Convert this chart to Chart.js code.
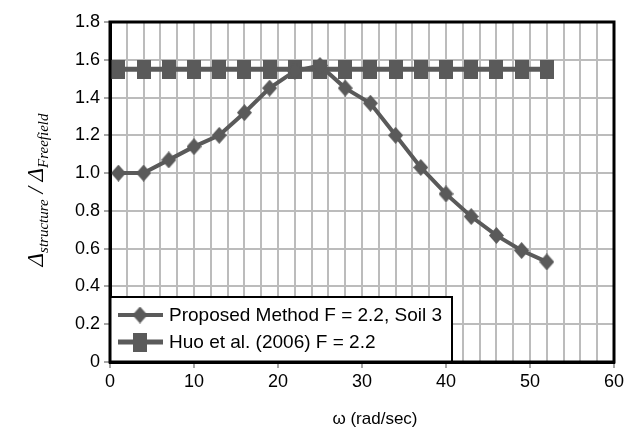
<!DOCTYPE html>
<html>
<head>
<meta charset="utf-8">
<script src="https://cdn.jsdelivr.net/npm/chart.js@4.4.1/dist/chart.umd.min.js"></script>
<style>
  body { margin: 0; background: #fff; }
</style>
</head>
<body>
<canvas id="myChart" width="632" height="431"></canvas>
<script>
// omega (rad/sec) at each sample
const omega = [1, 4, 7, 10, 13, 16, 19, 22, 25, 28, 31, 34, 37, 40, 43, 46, 49, 52]
const proposed = [1.0, 1.0, 1.07, 1.14, 1.2, 1.32, 1.45, 1.54, 1.57, 1.45, 1.37, 1.2, 1.03, 0.89, 0.77, 0.67, 0.59, 0.53]
const huo = [1.55, 1.55, 1.55, 1.55, 1.55, 1.55, 1.55, 1.55, 1.55, 1.55, 1.55, 1.55, 1.55, 1.55, 1.55, 1.55, 1.55, 1.55]
const seriesNames = ['Proposed Method F = 2.2, Soil 3', 'Huo et al. (2006) F = 2.2']
const markColor = '#5a5a5a'

// marker images (picture markers are a bit taller than wide)
function makeMarker(kind){
    const c = document.createElement('canvas')
    const w = kind === 'diamond' ? 15 : 14
    const h = kind === 'diamond' ? 17 : 19
    c.width = w; c.height = h
    const g = c.getContext('2d')
    g.fillStyle = markColor
    if(kind === 'diamond'){
        g.beginPath()
        g.moveTo(w/2, 0); g.lineTo(w, h/2); g.lineTo(w/2, h); g.lineTo(0, h/2)
        g.closePath(); g.fill()
    }else{
        g.fillRect(0, 0, w, h)
    }
    return c
}
const diamond = makeMarker('diamond')
const square = makeMarker('square')

// frame, legend box and axis titles
const extras = {
    id: 'extras',
    afterDatasetsDraw(chart){
        const {ctx, chartArea: a} = chart
        ctx.save()
        // legend box
        const lx = a.left, ly = 297, lw = 342, lh = a.bottom - 297
        ctx.fillStyle = '#fff'
        ctx.fillRect(lx, ly, lw, lh)
        ctx.strokeStyle = '#000'
        ctx.lineWidth = 2
        ctx.strokeRect(lx, ly, lw, lh)
        const rows = [[315, diamond, 4], [342, square, 5]]
        rows.forEach((r, i) => {
            ctx.strokeStyle = markColor
            ctx.lineWidth = r[2]
            ctx.beginPath(); ctx.moveTo(118, r[0]); ctx.lineTo(163, r[0]); ctx.stroke()
            ctx.drawImage(r[1], 140 - r[1].width/2, r[0] - r[1].height/2)
            ctx.fillStyle = '#000'
            ctx.font = '19px "Liberation Sans", Arial, sans-serif'
            ctx.textBaseline = 'middle'
            ctx.textAlign = 'left'
            ctx.fillText(seriesNames[i], 169, r[0] + 1)
        })
        // plot frame
        ctx.strokeStyle = '#000'
        ctx.lineWidth = 3
        ctx.strokeRect(a.left, a.top, a.right - a.left, a.bottom - a.top)
        ctx.restore()
    },
    afterDraw(chart){
        const {ctx} = chart
        ctx.save()
        // x title
        ctx.fillStyle = '#000'
        ctx.textBaseline = 'middle'
        ctx.textAlign = 'center'
        ctx.font = '17px "Liberation Sans", Arial, sans-serif'
        ctx.fillText('\u03C9 (rad/sec)', 375, 419)
        // y title with subscripts
        const big = 'italic 23px "Liberation Serif", "Times New Roman", serif'
        const small = 'italic 15px "Liberation Serif", "Times New Roman", serif'
        const parts = [['\u0394', big, 0], ['structure', small, 5], [' / ', big, 0], ['\u0394', big, 0], ['Freefield', small, 5]]
        let total = 0
        parts.forEach(p => { ctx.font = p[1]; p.push(ctx.measureText(p[0]).width); total += p[3] })
        ctx.translate(36, 190)
        ctx.rotate(-Math.PI/2)
        ctx.textAlign = 'left'
        ctx.textBaseline = 'alphabetic'
        let x = -total/2
        parts.forEach(p => {
            ctx.font = p[1]
            ctx.fillText(p[0], x, 7 + p[2])
            x += p[3]
        })
        ctx.restore()
    }
}

const ctx = document.getElementById('myChart')

new Chart(ctx, {
    type: 'line',
    data: {
        datasets: [{
            label: seriesNames[0],
            data: omega.map((w, i) => ({x: w, y: proposed[i]})),
            borderColor: markColor,
            borderWidth: 4,
            pointStyle: diamond,
            tension: 0
        }, {
            label: seriesNames[1],
            data: omega.map((w, i) => ({x: w, y: huo[i]})),
            borderColor: markColor,
            borderWidth: 5,
            pointStyle: square,
            tension: 0
        }]
    },
    options: {
        responsive: false,
        animation: false,
        layout: { padding: { top: 22, right: 18, left: 0, bottom: 0 } },
        plugins: {
            legend: { display: false },
            tooltip: { enabled: false }
        },
        scales: {
            x: {
                type: 'linear',
                min: 0, max: 60,
                afterFit(scale){ scale.height = 69 },
                ticks: {
                    stepSize: 2,
                    autoSkip: false,
                    maxRotation: 0,
                    padding: 3,
                    color: '#000',
                    font: { size: 18, family: '"Liberation Sans", Arial, sans-serif' },
                    callback: v => v % 10 === 0 ? String(v) : ''
                },
                grid: {
                    color: '#bcbcbc',
                    lineWidth: 2,
                    tickLength: 6,
                    tickColor: c => c.tick && c.tick.value % 10 === 0 ? '#888' : 'rgba(0,0,0,0)',
                    tickWidth: 1.5
                },
                border: { color: '#000', width: 3 }
            },
            y: {
                min: 0, max: 1.8,
                afterFit(scale){ scale.width = 110 },
                ticks: {
                    stepSize: 0.2,
                    padding: 4,
                    color: '#000',
                    font: { size: 18, family: '"Liberation Sans", Arial, sans-serif' },
                    callback: v => Math.abs(v) < 1e-9 ? '0' : v.toFixed(1)
                },
                grid: {
                    color: '#bcbcbc',
                    lineWidth: 2,
                    tickLength: 6,
                    tickColor: '#888',
                    tickWidth: 1.5
                },
                border: { color: '#000', width: 3 }
            }
        }
    },
    plugins: [extras]
})
</script>
</body>
</html>
